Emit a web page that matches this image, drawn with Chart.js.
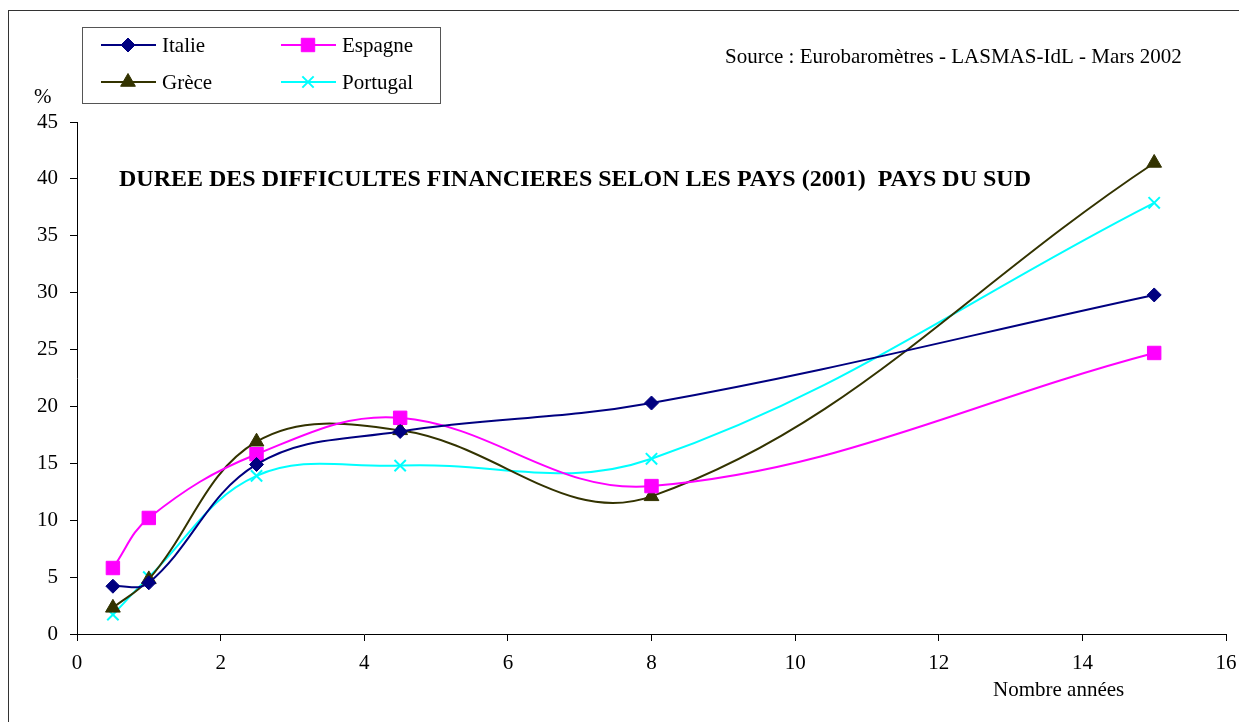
<!DOCTYPE html>
<html>
<head>
<meta charset="utf-8">
<script src="https://cdn.jsdelivr.net/npm/chart.js@4/dist/chart.umd.min.js"></script>
<style>
html,body{margin:0;padding:0;background:#fff;}
#wrap{position:relative;width:1239px;height:722px;}
</style>
</head>
<body>
<div id="wrap"><canvas id="c" width="1239" height="722"></canvas></div>
<script>
const years = [0.5, 1, 2.5, 4.5, 8, 15];
const italie = [4.2, 4.5, 14.9, 17.8, 20.3, 29.8];
const espagne = [5.8, 10.2, 15.8, 19.0, 13.0, 24.7];
const grece = [2.3, 4.8, 16.9, 17.9, 12.1, 41.4];
const portugal = [1.7, 5.0, 13.9, 14.8, 15.4, 37.9];
const seriesNames = ['Italie', 'Espagne', 'Grèce', 'Portugal'];
const chartTitle = 'DUREE DES DIFFICULTES FINANCIERES SELON LES PAYS (2001)  PAYS DU SUD';
const sourceText = 'Source : Eurobaromètres - LASMAS-IdL - Mars 2002';
const yAxisLabel = '%';
const xAxisLabel = 'Nombre années';

const FONT = "'Liberation Serif', 'Times New Roman', serif";

function pts(vals){ return years.map((x,i)=>({x:x, y:vals[i]})); }

const styles = [
  {color:'#000080', pointStyle:'rectRot', radius:7, bw:1},
  {color:'#FF00FF', pointStyle:'rect', radius:9.5, bw:1},
  {color:'#333300', pointStyle:'triangle', radius:8.5, bw:1},
  {color:'#00FFFF', pointStyle:'crossRot', radius:8, bw:2}
];
const allVals = [italie, espagne, grece, portugal];

const datasets = allVals.map((v,i)=>({
  label: seriesNames[i],
  data: pts(v),
  borderColor: styles[i].color,
  backgroundColor: styles[i].color,
  pointBackgroundColor: styles[i].color,
  pointBorderColor: styles[i].color,
  pointBorderWidth: styles[i].bw,
  pointStyle: styles[i].pointStyle,
  pointRadius: styles[i].radius,
  pointHoverRadius: styles[i].radius,
  borderWidth: 2,
  tension: 0.38,
  fill: false
}));

const decor = {
  id:'decor',
  beforeDraw(chart){
    const ctx = chart.ctx;
    ctx.save();
    ctx.fillStyle = '#fff';
    ctx.fillRect(0,0,chart.width,chart.height);
    ctx.restore();
  },
  afterDraw(chart){
    const ctx = chart.ctx;
    ctx.save();
    // outer frame
    ctx.strokeStyle = '#333';
    ctx.lineWidth = 1;
    ctx.strokeRect(8.5, 10.5, 1260, 760);
    // legend box
    ctx.strokeStyle = '#555';
    ctx.strokeRect(82.5, 27.5, 358, 76);
    const leg = [
      {x:101, y:45}, {x:281, y:45}, {x:101, y:82}, {x:281, y:82}
    ];
    ctx.font = '21px ' + FONT;
    ctx.textBaseline = 'middle';
    ctx.textAlign = 'left';
    leg.forEach((p,i)=>{
      const s = styles[i];
      ctx.strokeStyle = s.color;
      ctx.lineWidth = 2;
      ctx.beginPath();
      ctx.moveTo(p.x, p.y);
      ctx.lineTo(p.x+55, p.y);
      ctx.stroke();
      ctx.fillStyle = s.color;
      ctx.lineWidth = s.bw;
      Chart.helpers.drawPoint(ctx, {pointStyle:s.pointStyle, radius:s.radius, borderWidth:s.bw}, p.x+27, p.y);
      ctx.fillStyle = '#000';
      ctx.fillText(seriesNames[i], p.x+61, p.y+1);
    });
    // source
    ctx.fillStyle = '#000';
    ctx.font = '21px ' + FONT;
    ctx.fillText(sourceText, 725, 57);
    // title
    ctx.font = 'bold 24px ' + FONT;
    ctx.fillText(chartTitle, 119, 180);
    // axis labels
    ctx.font = '21px ' + FONT;
    ctx.fillText(yAxisLabel, 34, 97);
    ctx.fillText(xAxisLabel, 993, 690);
    ctx.restore();
  }
};

new Chart(document.getElementById('c'), {
  type: 'line',
  data: { datasets },
  plugins: [decor],
  options: {
    responsive: false,
    animation: false,
    events: [],
    layout: { padding: { left: 0, right: 13, top: 122, bottom: 0 } },
    plugins: { legend: { display: false }, tooltip: { enabled: false }, title: { display: false } },
    scales: {
      x: {
        type: 'linear', min: 0, max: 16,
        ticks: { stepSize: 2, color: '#000', font: { family: FONT, size: 21 }, padding: 10, maxRotation: 0 },
        grid: { drawOnChartArea: false, color: '#000', tickLength: 7, tickColor: '#000' },
        border: { color: '#000', width: 1 },
        afterFit(scale){ scale.height = 722 - 634; scale.paddingLeft = 0; scale.paddingRight = 0; }
      },
      y: {
        min: 0, max: 45,
        ticks: { stepSize: 5, color: '#000', font: { family: FONT, size: 21 }, padding: 12 },
        grid: { drawOnChartArea: false, color: '#000', tickLength: 7, tickColor: '#000' },
        border: { color: '#000', width: 1 },
        afterFit(scale){ scale.width = 77; scale.paddingTop = 0; scale.paddingBottom = 0; }
      }
    }
  }
});
</script>
</body>
</html>
